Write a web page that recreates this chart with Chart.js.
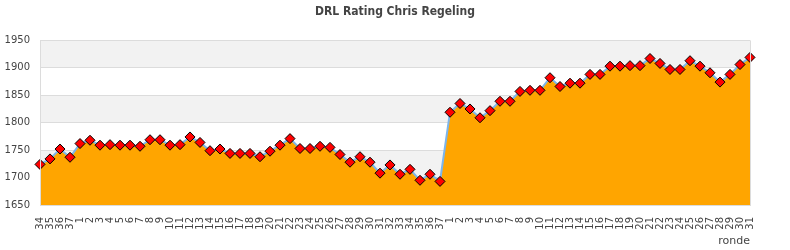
<!DOCTYPE html>
<html>
<head>
<meta charset="utf-8">
<script src="https://cdn.jsdelivr.net/npm/chart.js@4/dist/chart.umd.min.js"></script>
<style>
  html, body { margin: 0; padding: 0; background: #fff; }
  #wrap { width: 790px; height: 250px; }
</style>
</head>
<body>
<div id="wrap"><canvas id="ratingChart" width="790" height="250"></canvas></div>
<script>
// rounds (ronde) over three seasons
const rondes = [
    '34', '35', '36', '37',
    '1', '2', '3', '4', '5', '6', '7', '8', '9', '10', '11', '12', '13', '14', '15', '16', '17', '18', '19',
    '20', '21', '22', '23', '24', '25', '26', '27', '28', '29', '30', '31', '32', '33', '34', '35', '36', '37',
    '1', '2', '3', '4', '5', '6', '7', '8', '9', '10', '11', '12', '13', '14', '15', '16', '17', '18', '19',
    '20', '21', '22', '23', '24', '25', '26', '27', '28', '29', '30', '31'
];

// DRL rating per round
const ratings = [
    1724, 1734, 1752, 1737,
    1762, 1768, 1759, 1760, 1759, 1759, 1757, 1769, 1769, 1759, 1760, 1774, 1764, 1749, 1752,
    1744, 1744, 1744, 1738, 1748, 1759, 1771, 1753, 1753, 1757, 1755, 1742, 1728, 1738, 1728,
    1708, 1723, 1706, 1715, 1695, 1706, 1693,
    1819, 1835, 1825, 1809, 1822, 1839, 1839, 1857, 1859, 1859, 1882, 1866, 1872, 1872, 1888,
    1888, 1903, 1903, 1904, 1904, 1917, 1908, 1897, 1897, 1913, 1903, 1891, 1874, 1888, 1906, 1919
];

const yMin = 1650;
const yMax = 1950;
const yStep = 50;

// alternating grey bands + frame round the plot area
const bandsPlugin = {
    id: 'bands',
    beforeDraw(chart) {
        const { ctx, chartArea, scales } = chart;
        const y = scales.y;
        ctx.save();
        let n = 0;
        for (let v = yMax; v > yMin; v -= yStep) {
            if (n % 2 === 0) {
                const top = y.getPixelForValue(v);
                const bottom = y.getPixelForValue(v - yStep);
                ctx.fillStyle = '#f2f2f2';
                ctx.fillRect(chartArea.left, top, chartArea.right - chartArea.left, bottom - top);
            }
            n++;
        }
        ctx.restore();
    },
    afterDatasetsDraw(chart) {
        const { ctx, chartArea } = chart;
        ctx.save();
        ctx.strokeStyle = '#dcdcdc';
        ctx.lineWidth = 1;
        ctx.beginPath();
        ctx.moveTo(Math.round(chartArea.right) + 0.5, chartArea.top);
        ctx.lineTo(Math.round(chartArea.right) + 0.5, chartArea.bottom);
        ctx.moveTo(Math.round(chartArea.left) + 0.5, chartArea.top);
        ctx.lineTo(Math.round(chartArea.left) + 0.5, chartArea.bottom);
        ctx.stroke();
        ctx.restore();
    }
};

const ctx = document.getElementById('ratingChart').getContext('2d');
const ratingChart = new Chart(ctx, {
    type: 'line',
    data: {
        labels: rondes,
        datasets: [{
            label: 'Rating',
            data: ratings,
            borderColor: '#7cb5ec',
            borderWidth: 2,
            backgroundColor: '#ffa500',
            fill: 'start',
            tension: 0,
            pointStyle: 'rectRot',
            pointRadius: 5,
            pointBackgroundColor: '#ff0000',
            pointBorderColor: '#000000',
            pointBorderWidth: 1
        }]
    },
    options: {
        responsive: false,
        animation: false,
        layout: {
            padding: 0
        },
        plugins: {
            legend: { display: false },
            tooltip: { enabled: false },
            title: {
                display: true,
                text: 'DRL Rating Chris Regeling',
                color: '#444',
                font: { family: 'DejaVu Sans Condensed', size: 12, weight: 'bold' },
                padding: { top: 5, bottom: 21 }
            }
        },
        scales: {
            x: {
                grid: { display: false, drawTicks: false },
                border: { display: true, color: '#dcdcdc' },
                ticks: {
                    autoSkip: false,
                    minRotation: 90,
                    maxRotation: 90,
                    padding: 12,
                    color: '#444',
                    font: { family: 'DejaVu Sans', size: 10 }
                },
                title: {
                    display: true,
                    text: 'ronde',
                    align: 'end',
                    color: '#444',
                    font: { family: 'DejaVu Sans', size: 11 },
                    padding: { top: 2, bottom: 2 }
                },
                afterFit: function (scale) { scale.height = 45; }
            },
            y: {
                min: yMin,
                max: yMax,
                grid: { color: '#dcdcdc', drawTicks: false },
                border: { display: false },
                ticks: {
                    stepSize: yStep,
                    padding: 10,
                    color: '#444',
                    font: { family: 'DejaVu Sans', size: 10 },
                    callback: function (value) { return String(value); }
                },
                afterFit: function (scale) { scale.width = 40; }
            },
            // empty right-hand axis, only to keep 40px free on the right
            yRight: {
                position: 'right',
                min: yMin,
                max: yMax,
                grid: { display: false, drawTicks: false },
                border: { display: false },
                ticks: { display: false },
                afterFit: function (scale) { scale.width = 40; }
            }
        }
    },
    plugins: [bandsPlugin]
});
</script>
</body>
</html>
